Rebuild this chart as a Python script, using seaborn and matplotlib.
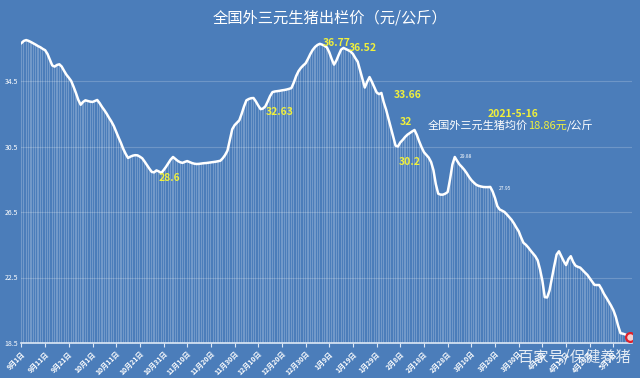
import numpy as np
import pandas as pd
import seaborn as sns
import matplotlib.pyplot as plt

# 全国外三元生猪出栏价（元/公斤），2020-09-01 ~ 2021-05-16，每日一个值
price = [
    # 9月
    36.82, 36.95, 37.00, 36.95, 36.88, 36.80, 36.72, 36.63, 36.56, 36.46,
    36.38, 36.15, 35.80, 35.45, 35.38, 35.48, 35.52, 35.38, 35.12, 34.88,
    34.70, 34.50, 34.15, 33.77, 33.35, 33.05, 33.22, 33.32, 33.28, 33.24,
    # 10月
    33.22, 33.28, 33.34, 33.15, 32.92, 32.72, 32.50, 32.25, 32.02, 31.75,
    31.40, 31.05, 30.72, 30.35, 30.05, 29.80, 29.88, 29.94, 29.97, 29.96,
    29.88, 29.78, 29.58, 29.36, 29.15, 28.95, 28.92, 29.04, 28.98, 28.88,
    29.05,
    # 11月
    29.25, 29.48, 29.70, 29.86, 29.74, 29.62, 29.54, 29.50, 29.56, 29.61,
    29.55, 29.49, 29.45, 29.43, 29.44, 29.46, 29.48, 29.49, 29.51, 29.53,
    29.55, 29.57, 29.60, 29.63, 29.78, 29.98, 30.25, 30.90, 31.55, 31.80,
    # 12月
    31.95, 32.10, 32.50, 32.95, 33.32, 33.40, 33.45, 33.46, 33.25, 33.00,
    32.78, 32.82, 32.95, 33.25, 33.58, 33.82, 33.86, 33.88, 33.90, 33.93,
    33.95, 33.98, 34.02, 34.07, 34.40, 34.80, 35.10, 35.30, 35.45, 35.58,
    35.85,
    # 1月
    36.15, 36.40, 36.58, 36.70, 36.77, 36.72, 36.65, 36.55, 36.25, 35.85,
    35.50, 35.75, 36.10, 36.42, 36.52, 36.45, 36.38, 36.30, 36.15, 35.90,
    35.68, 35.15, 34.60, 34.10, 34.45, 34.74, 34.45, 34.13, 33.80, 33.70,
    33.77,
    # 2月
    33.20, 32.75, 32.20, 31.63, 31.10, 30.55, 30.50, 30.75, 30.90, 31.08,
    31.22, 31.32, 31.42, 31.51, 31.20, 30.80, 30.45, 30.15, 29.98, 29.82,
    29.55, 29.05, 28.20, 27.62, 27.56, 27.56, 27.62, 27.72,
    # 3月
    28.50, 29.40, 29.86, 29.62, 29.40, 29.25, 29.08, 28.88, 28.65, 28.45,
    28.30, 28.17, 28.10, 28.06, 28.03, 28.02, 28.02, 28.03, 27.75, 27.35,
    26.85, 26.65, 26.58, 26.50, 26.35, 26.18, 26.02, 25.80, 25.55, 25.32,
    24.95,
    # 4月
    24.62, 24.50, 24.34, 24.15, 23.98, 23.80, 23.55, 23.00, 22.30, 21.30,
    21.28, 21.70, 22.45, 23.20, 23.90, 24.10, 23.80, 23.50, 23.26, 23.62,
    23.80, 23.45, 23.22, 23.15, 23.10, 22.95, 22.80, 22.66, 22.45, 22.25,
    # 5月
    22.05, 22.04, 22.04, 21.80, 21.50, 21.27, 21.02, 20.78, 20.50, 20.10,
    19.55, 19.10, 19.07, 19.02, 18.95, 18.86,
]
dates = pd.date_range('2020-09-01', periods=len(price), freq='D')

tick_labels = ['9月1日', '9月11日', '9月21日', '10月1日', '10月11日', '10月21日',
               '10月31日', '11月10日', '11月20日', '11月30日', '12月10日', '12月20日',
               '12月30日', '1月9日', '1月19日', '1月29日', '2月8日', '2月18日',
               '2月28日', '3月10日', '3月20日', '3月30日', '4月9日', '4月19日',
               '4月29日', '5月9日']
y_ticks = [18.5, 22.5, 26.5, 30.5, 34.5]

# 黄色标注: 文本, 日序号(位置), 纵坐标(位置)
yellow_notes = [('28.6', 62.7, 28.58), ('32.63', 109.2, 32.6), ('36.77', 133.3, 36.82),
                ('36.52', 144.2, 36.52), ('33.66', 163.2, 33.65), ('32', 162.4, 32.0),
                ('30.2', 164.1, 29.55)]
small_notes = [('29.88', 187.7, 29.86), ('27.95', 204.2, 27.95)]

df = pd.DataFrame({'date': dates, 'price': price})
df['day'] = (df['date'] - dates[0]).dt.days

bg = '#4b7dba'
yellow = '#f0f03c'

plt.rcParams['font.family'] = ['Noto Sans CJK SC', 'DejaVu Sans']

fig = plt.figure(figsize=(6.4, 3.78), dpi=100, facecolor=bg)
ax = fig.add_axes([21 / 640, 35 / 378, 611 / 640, 327.5 / 378])
ax.set_facecolor(bg)

# 每日细柱
sns.barplot(data=df, x='day', y='price', native_scale=True, width=0.5,
            color='white', alpha=0.22, errorbar=None, ax=ax, zorder=2)
# 价格曲线
sns.lineplot(data=df, x='day', y='price', color='white', lw=1.8, ax=ax, zorder=4)
# 最后一个点
ax.scatter(df['day'].iloc[-1], df['price'].iloc[-1], s=40, facecolor='#f4d0d0',
           edgecolor='#e0202a', linewidth=1.6, zorder=5)

ax.set_xlim(-0.2, 257.85)
ax.set_ylim(18.5, 38.5)

ax.set_yticks(y_ticks)
ax.set_yticklabels([f'{v}' for v in y_ticks])
ax.set_xticks(np.arange(0, 260, 10))
ax.set_xticklabels(tick_labels, rotation=45, ha='right', rotation_mode='anchor')
ax.tick_params(axis='y', length=0, pad=2, labelsize=5, labelcolor='white')
ax.tick_params(axis='x', length=3, width=0.8, color='#dde8f5', pad=2,
               labelsize=5, labelcolor='white')
for lbl in ax.get_xticklabels():
    lbl.set_fontweight('bold')

ax.grid(axis='y', color='white', alpha=0.2, lw=0.8, zorder=1)
ax.grid(axis='x', visible=False)
for s in ['top', 'right', 'left']:
    ax.spines[s].set_visible(False)
ax.spines['bottom'].set_color('#dde8f5')
ax.spines['bottom'].set_linewidth(1.2)
ax.set_xlabel('')
ax.set_ylabel('')

fig.text(0.516, 0.952, '全国外三元生猪出栏价（元/公斤）', color='white', fontsize=11,
         ha='center', va='center')

# 标注
for txt, d, yy in yellow_notes:
    ax.text(d, yy, txt, color=yellow, fontsize=7.5, fontweight='bold',
            ha='center', va='center', zorder=6)
for txt, d, yy in small_notes:
    ax.text(d, yy, txt, color='white', fontsize=3.5,
            ha='center', va='center', zorder=6)

ax.text(207.6, 32.48, '2021-5-16', color=yellow, fontsize=7.5, fontweight='bold',
        ha='center', va='center', zorder=6)
t1 = ax.text(171.7, 31.75, '全国外三元生猪均价', color='white', fontsize=8,
             ha='left', va='center', zorder=6)
t2 = ax.annotate('18.86元', xy=(1, 0.5), xycoords=t1, color=yellow, fontsize=8,
                 ha='left', va='center', zorder=6)
ax.annotate('/公斤', xy=(1, 0.5), xycoords=t2, color='white', fontsize=8,
            ha='left', va='center', zorder=6)

# 水印
fig.text(0.985, 0.055, '百家号/保健养猪', color='white', alpha=0.85, fontsize=11,
         ha='right', va='center')

plt.savefig('out.png', dpi=100, facecolor=bg)
